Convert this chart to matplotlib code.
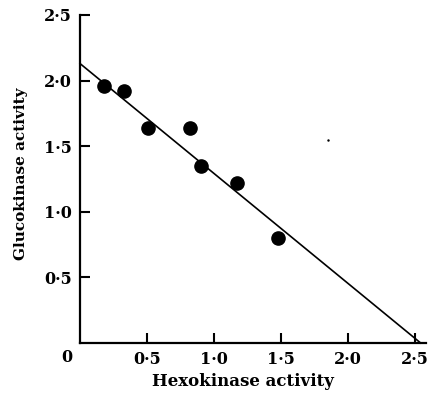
import matplotlib
matplotlib.use("Agg")
import matplotlib.pyplot as plt

hexo = [0.18, 0.33, 0.51, 0.82, 0.90, 1.17, 1.475]
gluco = [1.96, 1.92, 1.64, 1.64, 1.35, 1.22, 0.80]
line_x = [0.0, 2.54]
line_y = [2.13, 0.0]
xticks = [0.5, 1.0, 1.5, 2.0, 2.5]
yticks = [0.5, 1.0, 1.5, 2.0, 2.5]

fig = plt.figure(figsize=(4.3, 3.96), dpi=100)
ax = fig.add_axes([80/430, 53/396, 346/430, 328/396])
ax.plot(line_x, line_y, color='black', lw=1.2, clip_on=False)
ax.plot(hexo, gluco, 'o', color='black', markersize=9.5, clip_on=False)
ax.plot([1.85], [1.55], '.', color='black', markersize=1.5)

ax.set_xlim(0, 2.58)
ax.set_ylim(0, 2.5)
for s in ['top', 'right']:
    ax.spines[s].set_visible(False)
for s in ['left', 'bottom']:
    ax.spines[s].set_linewidth(1.6)

fnt = dict(family='DejaVu Serif', weight='bold', size=11.5)
ax.set_xticks(xticks)
ax.set_xticklabels([f"{v:.1f}".replace('.', '·') for v in xticks], fontdict=fnt)
ax.set_yticks(yticks)
ax.set_yticklabels([f"{v:.1f}".replace('.', '·') for v in yticks], fontdict=fnt)
ax.tick_params(direction='in', length=7, width=1.5)
ax.tick_params(axis='x', pad=6)
ax.tick_params(axis='y', pad=6)
ax.text(-0.1, -0.11, '0', ha='center', va='center', transform=ax.transData, **fnt)

ax.set_xlabel('Hexokinase activity', family='DejaVu Serif', weight='bold', size=12)
ax.set_ylabel('Glucokinase activity', family='DejaVu Serif', weight='bold', size=11)
ax.xaxis.set_label_coords((243 - 80) / 346, -(382 - 343) / 328)
ax.yaxis.set_label_coords(-(80 - 21) / 346, (343 - 174) / 328)
ax.xaxis.label.set_va('center')
ax.yaxis.label.set_va('center')

fig.savefig('out.png', dpi=100)
